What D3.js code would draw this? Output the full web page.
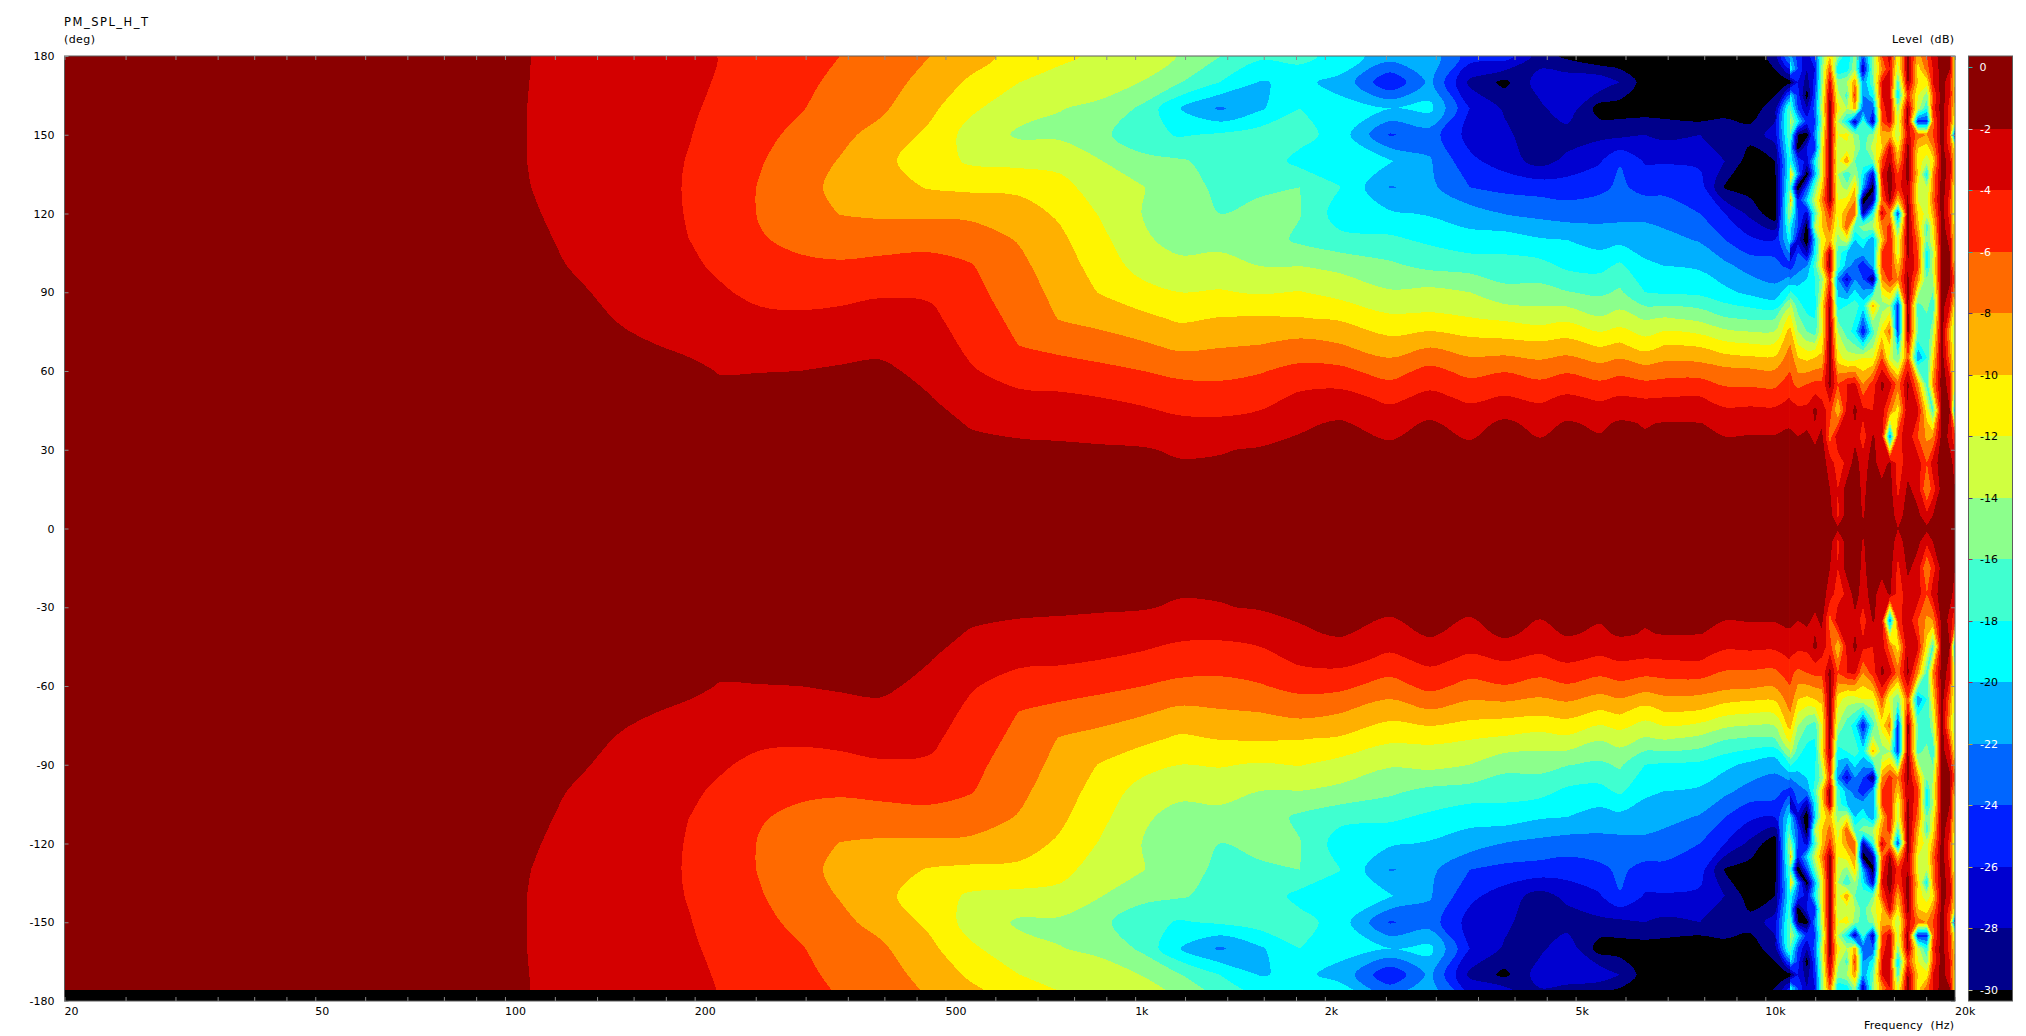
<!DOCTYPE html>
<html>
<head>
<meta charset="utf-8">
<script src="https://cdn.jsdelivr.net/npm/d3@7"></script>
<style>
  html, body { margin: 0; background: #fff; }
  text { font-family: 'DejaVu Sans', sans-serif; font-size: 11px; fill: #000; }
</style>
</head>
<body>
<svg id="chart" width="2026" height="1036"></svg>
<script>
// levels. top half only, the polar map is mirrored around 0 deg
const midAngles = [180, 170, 160, 150, 140, 130, 120, 110, 100, 90, 80, 70, 60, 50, 40, 30, 20, 10, 0];
const midFreqs = [20, 68, 98, 110, 131, 158, 197, 219, 254, 294, 340, 394, 473, 547, 656, 760, 879, 1018, 1178, 1363, 1577, 1826, 2113, 2536, 2935, 3398, 3861, 4389, 4842, 5464, 5879, 6441, 6928, 7873, 8626, 9453, 10358, 10940];
const midLevels = [
  [-.8,-.8,-.8,-.8,-.8,-.8,-.7,-.7,-.6,-.6,-.5,-.4,-.3,-.3,-.2,-.2,-.1,-.1,-.1],
  [-1.2,-1.2,-1.2,-1.2,-1.2,-1.15,-1.1,-1,-.95,-.85,-.75,-.65,-.55,-.45,-.35,-.25,-.2,-.1,-.1],
  [-1.65,-1.65,-1.65,-1.65,-1.65,-1.6,-1.5,-1.4,-1.3,-1.15,-1,-.85,-.7,-.55,-.4,-.3,-.2,-.1,-.1],
  [-2,-2.02,-2.05,-2.05,-2.05,-2,-1.85,-1.7,-1.55,-1.4,-1.2,-1,-.8,-.65,-.5,-.35,-.2,-.1,-.1],
  [-2.52,-2.56,-2.61,-2.65,-2.67,-2.66,-2.55,-2.34,-2.15,-1.85,-1.6,-1.3,-1.05,-.85,-.65,-.45,-.3,-.2,-.1],
  [-3.07,-3.1,-3.18,-3.25,-3.29,-3.32,-3.25,-3.1,-2.89,-2.5,-2.2,-1.8,-1.45,-1.15,-.85,-.6,-.4,-.25,-.15],
  [-3.7,-3.75,-3.85,-3.97,-4.08,-4.12,-4.1,-4.02,-3.75,-3.15,-2.7,-2.25,-1.75,-1.45,-1.1,-.8,-.55,-.3,-.2],
  [-4.03,-4.1,-4.27,-4.45,-4.55,-4.6,-4.55,-4.45,-4.25,-3.8,-3.25,-2.7,-2.05,-1.7,-1.35,-1,-.7,-.45,-.3],
  [-4.69,-4.8,-5.09,-5.46,-5.85,-6.15,-6.15,-5.85,-5.07,-4.4,-3.66,-2.83,-2.03,-1.6,-1.25,-.95,-.65,-.4,-.3],
  [-5.34,-5.48,-5.85,-6.5,-7.1,-7.33,-7.1,-6.45,-5.63,-4.67,-3.7,-2.85,-2,-1.55,-1.2,-.9,-.65,-.4,-.3],
  [-6,-6.5,-7,-7.55,-8.1,-8.5,-8.05,-6.95,-5.7,-4.5,-3.55,-2.65,-1.8,-1.4,-1.1,-.85,-.6,-.4,-.3],
  [-6.9,-7.1,-7.65,-8.6,-9.5,-9.2,-8.3,-6.85,-5.45,-4.2,-3.3,-2.45,-1.65,-1.3,-1,-.75,-.55,-.35,-.3],
  [-8,-8.75,-9.55,-10.45,-11,-10.15,-8.35,-6.65,-5.3,-4.25,-3.6,-3.05,-2.5,-1.95,-1.5,-1.2,-.85,-.55,-.4],
  [-9.1,-10.3,-11.6,-12.75,-12.3,-10.4,-8.4,-7,-5.85,-5.4,-4.9,-4.4,-3.8,-2.95,-2.1,-1.6,-1.2,-.8,-.5],
  [-10.8,-12,-13.35,-14.3,-12.6,-10.4,-9.2,-8.15,-7.56,-7.07,-6.57,-6.05,-4.85,-3.6,-2.4,-1.7,-1.3,-.85,-.6],
  [-11.6,-12.7,-13.95,-14.35,-12.65,-11.3,-10.3,-9.6,-9.1,-8.6,-8.1,-6.6,-5.1,-3.7,-2.5,-1.75,-1.35,-.9,-.6],
  [-12.4,-13.4,-14.3,-15.5,-13.9,-13,-12.15,-11.4,-10.75,-10.1,-8.7,-7.05,-5.5,-4,-2.75,-1.8,-1.4,-1,-.7],
  [-13,-14,-16.3,-17.2,-15.4,-13.8,-13.95,-13.6,-12.7,-11.2,-9.45,-7.7,-5.95,-4.4,-3.1,-1.85,-1.5,-1.1,-.8],
  [-14.1,-15.9,-19.95,-18.2,-15.8,-15.4,-15.2,-14.7,-13.5,-12,-10.3,-8.5,-6.5,-4.9,-3.6,-2.2,-1.6,-1.2,-.9],
  [-15.95,-18,-22.3,-17.7,-16.6,-16.3,-16,-14.7,-13.2,-11.85,-9.9,-8.2,-6.6,-5,-3.65,-2.1,-1.6,-1.2,-.9],
  [-17.6,-20.1,-20.3,-17,-16.6,-16.3,-15.5,-14.9,-14,-12.2,-9.8,-8,-6.15,-4.8,-3.2,-1.85,-1.5,-1.1,-.8],
  [-17.2,-19.7,-18,-17.2,-18.7,-16,-15.9,-16.4,-14,-11.9,-9.9,-7.4,-5.4,-3.6,-2.25,-1.6,-1.3,-1,-.7],
  [-19,-20.4,-19.6,-18.9,-19.3,-17.95,-19,-17.4,-14.5,-12.7,-10.2,-7.9,-5.5,-3.3,-1.8,-1.45,-1.2,-.9,-.7],
  [-21,-25.8,-20,-24.2,-19.8,-22.1,-19.7,-17.6,-15.6,-13.8,-11.6,-9.2,-6.8,-4.5,-2.7,-1.6,-1.3,-1,-.7],
  [-20.8,-21.5,-19.4,-23,-21.8,-21.5,-20.2,-18.4,-16.5,-13.4,-11.55,-8.3,-5.4,-3.5,-1.75,-1.4,-1.1,-.9,-.6],
  [-25,-28.5,-26,-26.8,-25.5,-24,-21,-19.3,-16.8,-14,-11.9,-9.2,-6.6,-4.4,-2.7,-1.6,-1.3,-1,-.7],
  [-25,-30.5,-28.3,-27.5,-27,-24.6,-22.1,-19,-17.2,-15.4,-12.3,-9.3,-6.1,-3.85,-1.6,-1.3,-1.1,-.9,-.6],
  [-29,-27,-28.5,-29.5,-28.8,-24.8,-22.6,-19.8,-17.3,-15.3,-12.8,-9.6,-6.8,-4.4,-2.6,-1.5,-1.2,-1,-.7],
  [-30.5,-26.5,-26.5,-29,-27.5,-25,-23,-20,-18.4,-15.9,-12.4,-9.2,-6.2,-3.7,-1.8,-1.3,-1.1,-.9,-.6],
  [-32,-26.5,-31,-28.5,-26.2,-24.5,-22.7,-20.9,-18.6,-16.4,-13.8,-10.3,-7,-4.3,-2.3,-1.5,-1.2,-.9,-.6],
  [-32,-28,-31,-28.5,-24.1,-23.6,-22.7,-20.6,-17.6,-15.7,-13.1,-9.7,-6.5,-3.85,-1.75,-1.4,-1.1,-.9,-.6],
  [-32,-31,-31,-28,-26.2,-24.7,-22.5,-21,-19.6,-18,-14.2,-11,-7.1,-4.1,-2.1,-1.6,-1.3,-.9,-.7],
  [-32,-31,-31,-28.5,-26.2,-24.5,-23,-21.3,-20,-18.3,-13.8,-10,-6.8,-4,-1.9,-1.5,-1.2,-.9,-.7],
  [-32,-32,-32,-28,-26.5,-25,-24,-22.2,-20.3,-18.5,-14.5,-10.3,-6.8,-3.9,-1.95,-1.5,-1.2,-.9,-.7],
  [-32,-32,-31,-28.3,-28,-30.2,-26,-24,-21.5,-19.5,-15.8,-11.4,-7.4,-5,-2.4,-1.6,-1.3,-1,-.7],
  [-32,-33,-31,-29.3,-31,-31,-28.5,-25.6,-22.8,-20.5,-16.2,-11.8,-7.6,-4.9,-2.3,-1.6,-1.3,-1,-.7],
  [-29,-31,-29,-27,-30,-31,-31.5,-26,-23,-21.5,-16.1,-11.7,-7.8,-5,-2.3,-1.6,-1.3,-1,-.7],
  [-21,-31,-16,-16,-18,-16,-14,-19,-25,-18,-11,-8,-6,-4,-2.2,-1.2,-.8,-.4,-.2]
];

// above 11 kHz the map has finer detail, so a second finer table
const highAngles = [180, 175, 170, 165, 160, 155, 150, 145, 140, 135, 130, 125, 120, 115, 110, 105, 100, 95, 85, 75, 65, 55, 45, 35, 25, 15, 5, 0];
const highFreqs = [10940, 11266, 11642, 11989, 12300, 12665, 13036, 13478, 13878, 14290, 14818, 15312, 15766, 16234, 16836, 17462, 18048, 18448, 19066, 19630, 20000];
const highLevels = [
  [-21,-25,-27,-24,-16,-10,-15,-20,-15,-24,-15,-6,-3,-12,-1.5,-9,-6,-3,-1,-2,-13],
  [-18,-24,-28,-26,-15,-6,-20,-19,-14,-28,-15,-8,-4,-13,-1,-11,-7,-4,-.8,-2,-12],
  [-31,-26,-29,-25,-15,-3,-15,-14,-8,-22,-16,-4,-3,-17,-1.5,-10,-11,-4,-.8,-4,-11],
  [-19,-25,-31,-24,-14,-1.5,-13,-17,-5,-22,-19,-4,-3,-20,-5,-12,-15,-6,-.8,-4,-10],
  [-16,-24,-28,-23,-13,-1,-11,-14,-9,-23,-24,-5,-2.5,-15,-1.5,-13,-18,-5,-.8,-5,-11],
  [-13,-19,-25,-24,-15,-1,-14,-19,-28,-17,-28,-6,-3,-13,-1,-25,-25,-7,-.8,-5,-13],
  [-16,-30,-31,-22,-13,-1,-12,-11,-15,-17,-15,-9,-9,-14,-3,-7,-8,-6,-1,-6,-26],
  [-19,-31,-26,-25,-12,-1,-14,-13,-14,-17,-13,-10,-3,-11,-1,-10,-11,-8,-1,-5,-12],
  [-18,-24,-27,-19,-12,-1,-13,-8,-16,-17,-16,-6,-2,-9,-.8,-11,-13,-11,-1,-3,-11],
  [-9,-22,-31,-21,-12,-.8,-14,-18,-14,-19,-27,-4,-.8,-6,-.8,-10,-19,-8,-1,-3,-11],
  [-16,-32,-24,-16,-10,-.8,-13,-15,-10,-21,-31,-5,-1,-5,-2,-12,-14,-8,-.8,-4,-13],
  [-8,-26,-20,-13,-8,-1,-12,-11,-8,-31,-28,-7,-1.5,-10,-1.5,-12,-13,-7,-.8,-5,-14],
  [-14,-24,-27,-17,-10,-5,-12,-8,-7,-28,-18,-3,-8,-24,-1,-10,-13,-9,-.8,-5,-14],
  [-19,-24,-31,-14,-10,-7,-13,-6,-17,-15,-14,-8,-5,-17,-.8,-9,-17,-11,-.8,-4,-12],
  [-19,-27,-32,-20,-11,-9,-15,-12,-20,-18,-22,-10,-4,-13,-1,-7,-16,-12,-.8,-2.5,-13],
  [-29,-24,-28,-19,-11,-1.5,-17,-20,-21,-21,-22,-6,-4,-13,-1.5,-6,-19,-14,-1,-2,-13],
  [-25,-23,-22,-17,-10,-1,-17,-21,-23,-26,-21,-6,-5,-10,-2,-5,-19,-13,-1,-2,-10],
  [-22,-21,-20,-18,-15,-5,-22,-27,-22,-24,-30,-8,-5,-8,-1.5,-8,-16,-14,-1,-1.5,-7],
  [-13,-17,-19,-19,-11,-1.5,-19,-18,-17,-19,-9,-15,-14,-25,-1,-17,-15,-18,-1,-4,-12],
  [-9,-14,-16,-17,-12,-1,-14,-17,-19,-26,-17,-11,-7,-25,-1,-16,-18,-14,-1,-9,-14],
  [-6.5,-10,-10.5,-10,-9.5,-.8,-11,-13,-13,-12,-12,-6,-13,-16,-6,-22,-18,-11,-.8,-7,-13],
  [-5.5,-6.5,-6,-5.5,-5.5,-1.2,-6,-4,-3.5,-8,-5,-1.5,-3,-7,-1.5,-8,-17,-8,-.8,-3,-14],
  [-3,-3.5,-3.5,-1.5,-3,-5,-10,-3.5,-1.5,-3.5,-4,-3,-7,-11,-2,-3.5,-11,-17,-1,-2,-20],
  [-1.5,-2,-1.5,-2.5,-1.5,-7,-2.5,-2,-2.5,-5,-1.8,-3,-22,-5,-2.5,-6,-8.5,-8,-1,-2.5,-6],
  [-.8,-1,-1,-1,-1,-3,-5,-3.5,-1,-3,-1,-3.5,-1.5,-5,-3,-3,-6,-3,-1,-1.5,-2.5],
  [-.5,-.7,-.7,-.7,-.7,-2,-4,-1,-.8,-2.5,-.8,-1,-1.2,-4.5,-1.5,-3,-8,-5,-1,-1.2,-2],
  [-.3,-.4,-.4,-.4,-.4,-1,-4.5,-.8,-.6,-2.2,-.6,-.7,-.8,-3,-1,-1.5,-3.5,-2,-.8,-1,-1.5],
  [-.2,-.3,-.3,-.3,-.3,-.8,-1.5,-.7,-.5,-1.5,-.5,-.6,-.7,-2,-.8,-1,-1.5,-1.2,-.7,-.8,-1]
];

// bands, each colour is for level >= threshold
const thresholds = [-30, -28, -26, -24, -22, -20, -18, -16, -14, -12, -10, -8, -6, -4, -2];
const bandColors = ['#00008b', '#0000d0', '#0020ff', '#0066ff', '#00b0ff', '#00ffff', '#40ffd0', '#8cff8c', '#d0ff40', '#fff500', '#ffb000', '#ff6a00', '#ff2000', '#d40000', '#8b0000'];

const freqTicks = [20, 25, 30, 35, 40, 45, 50, 60, 70, 80, 90, 100, 120, 140, 160, 180, 200, 250, 300, 350, 400, 450, 500, 600, 700, 800, 900, 1000, 1200, 1400, 1600, 1800, 2000, 2500, 3000, 3500, 4000, 4500, 5000, 6000, 7000, 8000, 9000, 10000, 12000, 14000, 16000, 18000, 20000];
const freqLabels = [[20, '20'], [50, '50'], [100, '100'], [200, '200'], [500, '500'], [1000, '1k'], [2000, '2k'], [5000, '5k'], [10000, '10k'], [20000, '20k']];
const angleTicks = [180, 150, 120, 90, 60, 30, 0, -30, -60, -90, -120, -150, -180];
const barTicks = [0, -2, -4, -6, -8, -10, -12, -14, -16, -18, -20, -22, -24, -26, -28, -30];
const barTickColors = ['#30b0a8', '#c8c8c8', '#30b0a8', '#30b0a8', '#503080', '#503080', '#503080', '#503080', '#a03060', '#a03050', '#c01040', '#c8a020', '#c8c040', '#c8c040', '#c8a020', '#c8c8a0'];

const plotLeft = 64.5, plotRight = 1955, plotTop = 56, plotBottom = 1001, dataBottom = 990;
const barLeft = 1968.5, barRight = 2012.5;

const svg = d3.select('#chart');

// scales
const x = d3.scaleLog().domain([20, 20000]).range([plotLeft, plotRight]);
const y = d3.scaleLinear().domain([180, -180]).range([plotTop, plotBottom]);
const barY = d3.scaleLinear().domain([0, -30]).range([67, 990]);

svg.append('clipPath').attr('id', 'plotClip')
  .append('rect').attr('x', plotLeft).attr('y', plotTop).attr('width', plotRight - plotLeft).attr('height', dataBottom - plotTop);
svg.append('clipPath').attr('id', 'midClip')
  .append('rect').attr('x', plotLeft).attr('y', plotTop).attr('width', x(10940) - plotLeft).attr('height', dataBottom - plotTop);

svg.append('rect').attr('x', plotLeft).attr('y', plotTop).attr('width', plotRight - plotLeft).attr('height', plotBottom - plotTop).attr('fill', '#000');

const plot = svg.append('g').attr('clip-path', 'url(#plotClip)');
const closedCurve = d3.line().curve(d3.curveCatmullRomClosed.alpha(0.5));

// draws one table: rows go from +180 to 0, mirrored to get down to -180
function drawMap(freqs, angles, rows, clipId, smoothEdges) {
  const allAngles = angles.concat(angles.slice(0, -1).reverse().map(a => -a));
  const allRows = rows.concat(rows.slice(0, -1).reverse());
  const n = freqs.length, m = allAngles.length;
  const values = allRows.flat();

  const colX = d3.scaleLinear().domain(d3.range(n)).range(freqs.map(f => x(f))).clamp(!smoothEdges);
  const rowY = d3.scaleLinear().domain(d3.range(m)).range(allAngles.map(a => y(a))).clamp(!smoothEdges);

  const contours = d3.contours().size([n, m]).smooth(true).thresholds(thresholds)(values);
  const ringPath = ring => {
    const pts = ring.slice(0, -1).map(p => [colX(p[0] - 0.5), rowY(p[1] - 0.5)]);
    return smoothEdges ? closedCurve(pts) : 'M' + pts.map(p => p[0].toFixed(2) + ',' + p[1].toFixed(2)).join('L') + 'Z';
  };
  const toPath = geom => geom.coordinates.map(poly => poly.map(ringPath).join('')).join('');

  plot.append('g')
    .attr('clip-path', `url(#${clipId})`)
    .selectAll('path')
    .data(contours)
    .enter()
    .append('path')
    .attr('d', toPath)
    .attr('fill', (d, i) => bandColors[i])
    .attr('fill-rule', 'evenodd')
    .attr('shape-rendering', 'crispEdges');
}

const midRows = midAngles.map((a, j) => midLevels.map(col => col[j]));
drawMap(midFreqs, midAngles, midRows, 'midClip', true);
drawMap(highFreqs, highAngles, highLevels, 'plotClip', false);

// frame and axes
svg.append('rect').attr('x', plotLeft).attr('y', plotTop).attr('width', plotRight - plotLeft).attr('height', plotBottom - plotTop)
  .attr('fill', 'none').attr('stroke', '#5c5c5c').attr('stroke-width', 1);

function styleAxis(g) {
  g.select('.domain').remove();
  g.selectAll('.tick line').attr('stroke', '#8a8a8a');
  g.selectAll('.tick text').remove();
}
svg.append('g').attr('transform', `translate(0,${plotTop})`)
  .call(d3.axisTop(x).tickValues(freqTicks).tickSize(-4).tickFormat('')).call(styleAxis);
svg.append('g').attr('transform', `translate(0,${plotBottom})`)
  .call(d3.axisBottom(x).tickValues(freqTicks).tickSize(-4).tickFormat('')).call(styleAxis);
svg.append('g').attr('transform', `translate(${plotLeft},0)`)
  .call(d3.axisLeft(y).tickValues(angleTicks).tickSize(-4).tickFormat('')).call(styleAxis);
svg.append('g').attr('transform', `translate(${plotRight},0)`)
  .call(d3.axisRight(y).tickValues(angleTicks).tickSize(-4).tickFormat('')).call(styleAxis);

svg.selectAll('.freqLabel').data(freqLabels).enter().append('text')
  .attr('x', d => x(d[0]))
  .attr('y', 1015)
  .text(d => d[1]);

svg.selectAll('.angleLabel').data(angleTicks).enter().append('text')
  .attr('x', 54.5)
  .attr('y', d => y(d) + 4)
  .attr('text-anchor', 'end')
  .text(d => d);

svg.append('text').attr('x', 64).attr('y', 26).attr('textLength', 84).attr('lengthAdjust', 'spacing').style('font-size', '11.5px').text('PM_SPL_H_T');
svg.append('text').attr('x', 64).attr('y', 43).attr('textLength', 31).text('(deg)');
svg.append('text').attr('x', 1892).attr('y', 43).attr('textLength', 62).attr('xml:space', 'preserve').text('Level  (dB)');
svg.append('text').attr('x', 1864).attr('y', 1029).attr('textLength', 90).attr('xml:space', 'preserve').text('Frequency  (Hz)');

// colour bar
svg.append('rect').attr('x', barLeft).attr('y', plotTop).attr('width', barRight - barLeft).attr('height', plotBottom - plotTop).attr('fill', '#000');
svg.selectAll('.band').data(thresholds).enter().append('rect')
  .attr('x', barLeft)
  .attr('width', barRight - barLeft)
  .attr('y', d => d === -2 ? plotTop : barY(d + 2))
  .attr('height', d => barY(d) - (d === -2 ? plotTop : barY(d + 2)))
  .attr('fill', (d, i) => bandColors[i])
  .attr('shape-rendering', 'crispEdges');
svg.append('rect').attr('x', barLeft).attr('y', plotTop).attr('width', barRight - barLeft).attr('height', plotBottom - plotTop)
  .attr('fill', 'none').attr('stroke', '#5c5c5c').attr('stroke-width', 1);

svg.selectAll('.barTick').data(barTicks).enter().append('line')
  .attr('x1', barLeft).attr('x2', barLeft + 4)
  .attr('y1', d => Math.round(barY(d)) + 0.5).attr('y2', d => Math.round(barY(d)) + 0.5)
  .attr('stroke', (d, i) => barTickColors[i]);

svg.selectAll('.barLabel').data(barTicks).enter().append('text')
  .attr('x', d => d === 0 ? 1979.5 : 1980)
  .attr('y', d => barY(d) + 4)
  .style('fill', d => (d > -8 || d < -20) ? '#fff' : '#000')
  .text(d => d);
</script>
</body>
</html>
